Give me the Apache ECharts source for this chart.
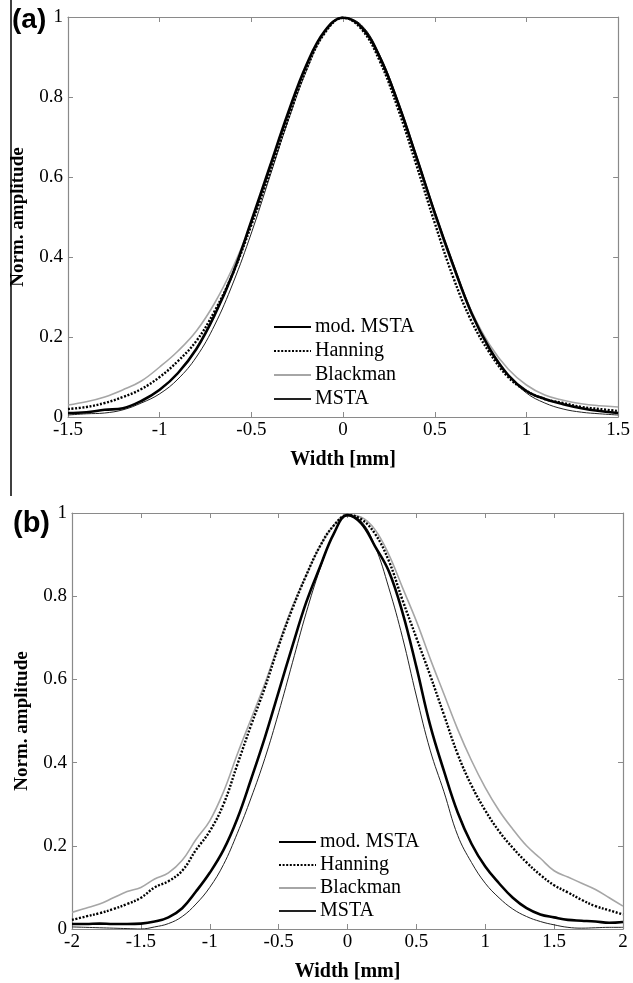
<!DOCTYPE html>
<html>
<head>
<meta charset="utf-8">
<script src="https://cdn.jsdelivr.net/npm/echarts@6/dist/echarts.min.js"></script>
<style>html,body{margin:0;padding:0;background:#fff}#c{width:633px;height:983px}</style>
</head>
<body>
<div id="c"></div>
<script>
// ---- Panel (a) ----
const xA = [-1.5,-1.4,-1.3,-1.2,-1.1,-1.0,-0.9,-0.8,-0.7,-0.6,-0.5,-0.4,-0.3,-0.2,-0.1,0,0.1,0.2,0.3,0.4,0.5,0.6,0.7,0.8,0.9,1.0,1.1,1.2,1.3,1.4,1.5];
const modA  = [0.010,0.012,0.018,0.022,0.040,0.068,0.110,0.170,0.255,0.360,0.490,0.625,0.760,0.880,0.965,0.998,0.975,0.900,0.785,0.650,0.510,0.380,0.260,0.170,0.105,0.065,0.045,0.032,0.022,0.015,0.010];
const hanA  = [0.020,0.025,0.035,0.050,0.070,0.100,0.140,0.190,0.265,0.360,0.480,0.610,0.745,0.870,0.960,0.998,0.970,0.890,0.770,0.630,0.485,0.350,0.240,0.160,0.100,0.065,0.045,0.035,0.025,0.020,0.015];
const blkA  = [0.030,0.038,0.050,0.068,0.090,0.125,0.165,0.215,0.285,0.375,0.485,0.615,0.750,0.870,0.960,0.998,0.975,0.895,0.780,0.645,0.505,0.375,0.265,0.180,0.120,0.080,0.055,0.042,0.033,0.028,0.025];
const mstaA = [0.005,0.008,0.010,0.018,0.035,0.058,0.095,0.150,0.230,0.335,0.460,0.600,0.740,0.865,0.960,0.998,0.980,0.905,0.790,0.655,0.515,0.385,0.265,0.170,0.105,0.060,0.035,0.020,0.012,0.008,0.005];
// ---- Panel (b) ----
const xB = [-2.0,-1.9,-1.8,-1.7,-1.6,-1.5,-1.4,-1.3,-1.2,-1.1,-1.0,-0.9,-0.8,-0.7,-0.6,-0.5,-0.4,-0.3,-0.2,-0.1,0,0.1,0.2,0.3,0.4,0.5,0.6,0.7,0.8,0.9,1.0,1.1,1.2,1.3,1.4,1.5,1.6,1.7,1.8,1.9,2.0];
const modB  = [0.012,0.012,0.013,0.012,0.012,0.013,0.018,0.028,0.050,0.090,0.135,0.190,0.265,0.360,0.460,0.570,0.680,0.785,0.870,0.950,0.995,0.975,0.920,0.860,0.760,0.630,0.490,0.380,0.280,0.205,0.150,0.110,0.075,0.050,0.035,0.028,0.022,0.020,0.018,0.015,0.017];
const hanB  = [0.022,0.030,0.038,0.048,0.060,0.075,0.100,0.115,0.140,0.190,0.235,0.300,0.395,0.490,0.580,0.680,0.770,0.850,0.920,0.970,0.995,0.985,0.950,0.885,0.790,0.700,0.610,0.515,0.420,0.345,0.285,0.235,0.195,0.160,0.130,0.105,0.088,0.070,0.055,0.045,0.035];
const blkB  = [0.040,0.050,0.060,0.075,0.090,0.100,0.120,0.135,0.165,0.215,0.260,0.330,0.420,0.505,0.590,0.685,0.775,0.850,0.920,0.970,0.995,0.990,0.960,0.900,0.820,0.740,0.650,0.565,0.480,0.405,0.340,0.285,0.240,0.200,0.170,0.140,0.125,0.110,0.095,0.075,0.055];
const mstaB = [0.005,0.004,0.003,0.002,0.001,0.000,0.005,0.013,0.030,0.060,0.100,0.155,0.230,0.315,0.410,0.520,0.640,0.760,0.865,0.950,0.995,0.980,0.920,0.820,0.700,0.560,0.430,0.330,0.225,0.160,0.110,0.075,0.048,0.030,0.018,0.010,0.004,0.002,0.003,0.004,0.004];

const names = ['mod. MSTA','Hanning','Blackman','MSTA'];
const styles = [
  {color:'#000', width:2.6, type:'solid'},
  {color:'#000', width:2.4, type:[2,1.6]},
  {color:'#a6a6a6', width:1.6, type:'solid'},
  {color:'#222', width:1, type:'solid'}
];
const pair = (xs, ys) => xs.map((x,i)=>[x, ys[i]]);
const setsA = [modA, hanA, blkA, mstaA];
const setsB = [modB, hanB, blkB, mstaB];

const serif = 'Liberation Serif';
const axisCol = '#8a8a8a';
function xAxes(gi, min, max){
  return [{
    type:'value', gridIndex:gi, min:min, max:max, interval:0.5, position:'bottom',
    axisLine:{show:true, onZero:false, lineStyle:{color:axisCol, width:1.2}},
    axisTick:{show:true, inside:true, length:5, lineStyle:{color:axisCol}},
    axisLabel:{color:'#000', fontFamily:serif, fontSize:19, margin:4},
    splitLine:{show:false},
    name:'Width [mm]', nameLocation:'middle', nameGap:33,
    nameTextStyle:{color:'#000', fontFamily:serif, fontSize:20, fontWeight:'bold'}
  },{
    type:'value', gridIndex:gi, min:min, max:max, interval:0.5, position:'top',
    axisLine:{show:true, onZero:false, lineStyle:{color:axisCol, width:1.2}},
    axisTick:{show:true, inside:true, length:5, lineStyle:{color:axisCol}},
    axisLabel:{show:false}, splitLine:{show:false}
  }];
}
function yAxes(gi){
  return [{
    type:'value', gridIndex:gi, min:0, max:1, interval:0.2, position:'left',
    axisLine:{show:true, onZero:false, lineStyle:{color:axisCol, width:1.2}},
    axisTick:{show:true, inside:true, length:5, lineStyle:{color:axisCol}},
    axisLabel:{color:'#000', fontFamily:serif, fontSize:19, margin:5},
    splitLine:{show:false},
    name:'Norm. amplitude', nameLocation:'middle', nameGap:40, nameRotate:90,
    nameTextStyle:{color:'#000', fontFamily:serif, fontSize:19, fontWeight:'bold'}
  },{
    type:'value', gridIndex:gi, min:0, max:1, interval:0.2, position:'right',
    axisLine:{show:true, onZero:false, lineStyle:{color:axisCol, width:1.2}},
    axisTick:{show:true, inside:true, length:5, lineStyle:{color:axisCol}},
    axisLabel:{show:false}, splitLine:{show:false}
  }];
}
const series = [];
setsA.forEach((ys,i)=>series.push({
  name:names[i], type:'line', xAxisIndex:0, yAxisIndex:0, data:pair(xA, ys),
  symbol:'none', smooth:0.4, lineStyle:styles[i], itemStyle:{color:styles[i].color}, z:10-i
}));
setsB.forEach((ys,i)=>series.push({
  name:names[i], type:'line', xAxisIndex:2, yAxisIndex:2, data:pair(xB, ys),
  symbol:'none', smooth:0.4, lineStyle:styles[i], itemStyle:{color:styles[i].color}, z:10-i
}));

function legendAt(left, top, gap){
  return {
    orient:'vertical', left:left, top:top, itemGap:gap,
    data:names, itemWidth:37, itemHeight:14, padding:0,
    itemStyle:{opacity:0},
    textStyle:{color:'#000', fontFamily:serif, fontSize:20, lineHeight:20, padding:[0,0,0,-1]},
    selectedMode:false
  };
}

const chart = echarts.init(document.getElementById('c'));
chart.setOption({
  animation:false,
  backgroundColor:'#fff',
  grid:[
    {left:68, top:17, width:552, height:400},
    {left:72, top:513, width:551, height:419}
  ],
  xAxis:[...xAxes(0,-1.5,1.5), ...xAxes(1,-2,2)],
  yAxis:[...yAxes(0), ...yAxes(1)],
  legend:[legendAt(273, 317, 4), legendAt(278, 832, 3)],
  series:series,
  graphic:[
    {type:'line', shape:{x1:11, y1:0, x2:11, y2:496}, style:{stroke:'#000', lineWidth:1.5}},
    {type:'text', left:12, top:6, style:{text:'(a)', fill:'#000', font:'bold 28px "Liberation Sans", Arial, sans-serif'}},
    {type:'text', left:13, top:509, style:{text:'(b)', fill:'#000', font:'bold 29px "Liberation Sans", Arial, sans-serif'}}
  ]
});
</script>
</body>
</html>
